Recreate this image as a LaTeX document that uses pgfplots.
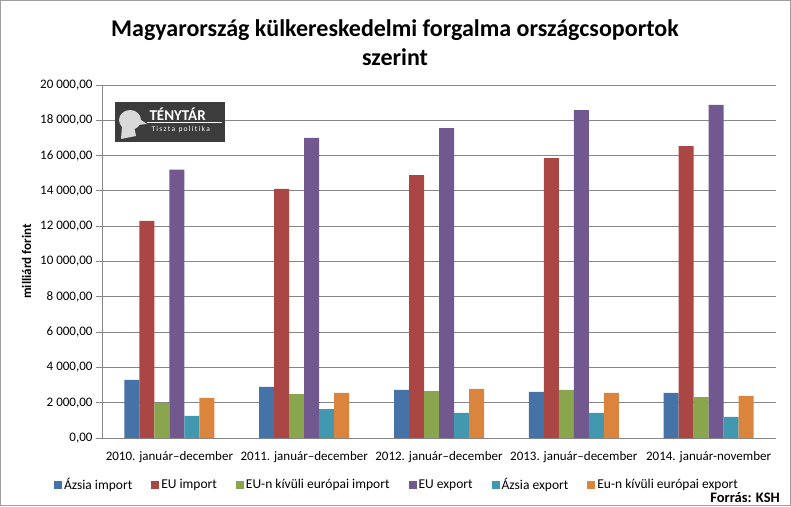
\documentclass[border=0pt]{standalone}
\usepackage{pgfplots}
\pgfplotsset{compat=1.18}
\usepackage{fontspec}
\setmainfont{Carlito}
\definecolor{cBlue}{HTML}{4572A7}
\definecolor{cRed}{HTML}{AA4643}
\definecolor{cGreen}{HTML}{89A54E}
\definecolor{cPurple}{HTML}{71588F}
\definecolor{cTeal}{HTML}{4198AF}
\definecolor{cOrange}{HTML}{DB843D}
\definecolor{gridgray}{HTML}{868686}
\definecolor{logobg}{HTML}{3C3C3C}
\begin{document}
\begin{tikzpicture}[x=1pt,y=1pt]
\path[use as bounding box] (0,0) rectangle (791,506);
\draw[color=gridgray!80, line width=1pt] (0.5,0.5) rectangle (790.5,505.5);
\node[font=\bfseries\fontsize{24}{29}\selectfont, align=center] at (395,463.5)
  {Magyarország külkereskedelmi forgalma országcsoportok\\szerint};
\begin{axis}[
  at={(102pt,68pt)}, anchor=south west, scale only axis,
  width=674pt, height=353pt,
  ybar=0pt, bar width=15pt,
  xmin=-0.5, xmax=4.5, ymin=0, ymax=20000,
  xtick={0,1,2,3,4},
  xticklabels={2010. január–december, 2011. január–december, 2012. január–december, 2013. január–december, 2014. január-november},
  ytick={0,2000,...,20000},
  scaled y ticks=false,
  ymajorgrids, grid style={color=gridgray, line width=0.8pt},
  axis x line*=bottom, axis y line*=left,
  axis line style={color=gridgray, line width=0.8pt},
  tick align=outside, major tick length=6pt,
  ytick style={color=gridgray, line width=0.8pt},
  xtick style={draw=none},
  yticklabel style={font=\fontsize{13}{15}\selectfont,
    /pgf/number format/.cd, fixed, fixed zerofill, precision=2, use comma, 1000 sep={\ }, assume math mode=true},
  xticklabel style={font=\fontsize{13}{15}\selectfont, yshift=-4pt},
  ylabel={milliárd forint},
  ylabel style={font=\bfseries\fontsize{13}{15}\selectfont, yshift=2pt},
  legend style={at={(0.4377,-0.1331)}, anchor=center, draw=none, fill=none,
    legend columns=6, font=\fontsize{13.5}{15}\selectfont,
    /tikz/every even column/.append style={column sep=17pt}},
  legend image code/.code={\path[#1,draw=none] (0pt,-4pt) rectangle (8pt,4pt);},
]
\addplot[fill=cBlue, draw=none] coordinates {(0,3290) (1,2890) (2,2720) (3,2610) (4,2550)};
\addplot[fill=cRed, draw=none] coordinates {(0,12300) (1,14110) (2,14900) (3,15860) (4,16540)};
\addplot[fill=cGreen, draw=none] coordinates {(0,1980) (1,2490) (2,2660) (3,2720) (4,2320)};
\addplot[fill=cPurple, draw=none] coordinates {(0,15200) (1,17010) (2,17560) (3,18580) (4,18870)};
\addplot[fill=cTeal, draw=none] coordinates {(0,1250) (1,1640) (2,1420) (3,1420) (4,1190)};
\addplot[fill=cOrange, draw=none] coordinates {(0,2270) (1,2550) (2,2780) (3,2550) (4,2380)};
\legend{Ázsia import, EU import, EU-n kívüli európai import, EU export, Ázsia export, Eu-n kívüli európai export}
\end{axis}
% logo
\fill[logobg] (115,364) rectangle (225,404);
\fill[gray!30] (130,386) ellipse (11 and 10);
\fill[gray!30] (122,380) -- (134,380) -- (136,370) -- (121,367) -- cycle;
\fill[gray!30] (138,388) -- (147,382) -- (138,381) -- cycle;
\node[anchor=west, text=white, font=\bfseries\fontsize{15}{16}\selectfont] at (146,392) {TÉNYTÁR};
\draw[white, line width=0.6pt] (147,383.5) -- (222,383.5);
\node[anchor=west, text=white, font=\fontsize{7.5}{8}\selectfont] at (148,376) {T\,i\,s\,z\,t\,a\ \ p\,o\,l\,i\,t\,i\,k\,a};
\node[anchor=east, font=\bfseries\fontsize{14.5}{16}\selectfont, inner sep=1pt] at (781,8) {Forrás: KSH};
\end{tikzpicture}
\end{document}
